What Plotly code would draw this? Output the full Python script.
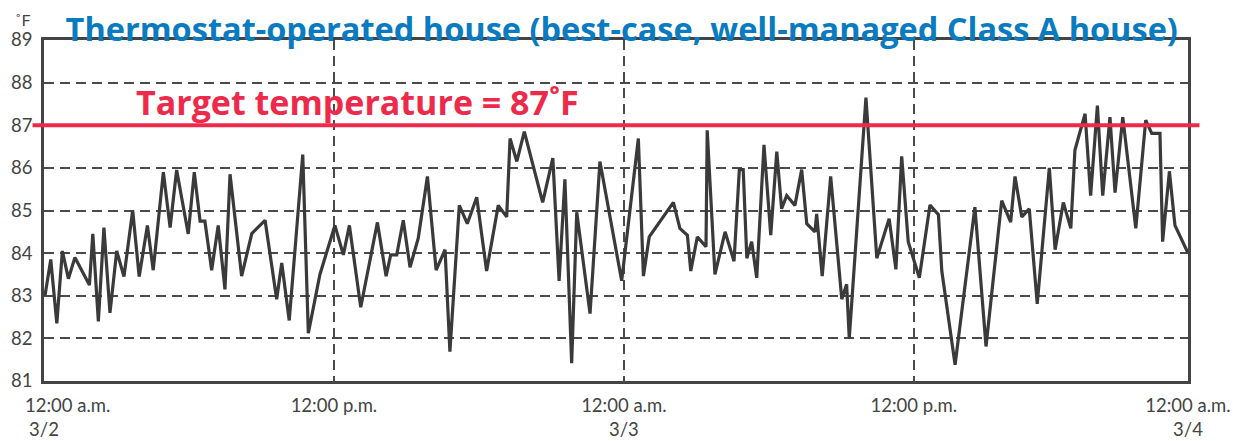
import plotly.graph_objects as go

# Time since 12:00 a.m. 3/2, in hours
hours = [0.04, 0.28, 0.53, 0.76, 1.01, 1.28, 1.88, 2.02, 2.25, 2.48, 2.73, 3.01, 3.31, 3.67, 3.94,
         4.28, 4.52, 4.94, 5.22, 5.49, 5.97, 6.22, 6.46, 6.66, 6.94, 7.21, 7.49, 7.70, 8.18, 8.60,
         9.15, 9.63, 9.84, 10.15, 10.71, 10.94, 11.42, 12.04, 12.39, 12.64, 13.11, 13.80, 14.16,
         14.35, 14.60, 14.87, 15.15, 15.49, 15.87, 16.23, 16.60, 16.80, 17.19, 17.52, 17.91, 18.32,
         18.80, 19.15, 19.29, 19.57, 19.88, 20.64, 21.06, 21.32, 21.56, 21.84, 22.05, 22.60, 23.01,
         23.91, 24.60, 24.81, 25.05, 26.05, 26.32, 26.63, 26.77, 27.04, 27.40, 27.45, 27.77, 28.19,
         28.56, 28.78, 28.94, 29.09, 29.29, 29.50, 29.80, 30.08, 30.33, 30.53, 30.74, 31.08, 31.36,
         31.57, 31.91, 31.98, 32.21, 32.56, 33.02, 33.22, 33.33, 34.02, 34.47, 34.98, 35.26, 35.50,
         35.77, 36.23, 36.67, 37.02, 37.16, 37.71, 38.53, 38.99, 39.64, 40.01, 40.19, 40.47, 40.78,
         41.11, 41.61, 41.85, 42.19, 42.50, 42.67, 43.09, 43.32, 43.60, 43.82, 44.12, 44.33, 44.65,
         45.19, 45.60, 45.85, 46.19, 46.30, 46.58, 46.81, 47.35]

temps_f = [83.0, 83.85, 82.35, 84.05, 83.4, 83.9, 83.25, 84.45, 82.4, 84.6, 82.6, 84.05, 83.45, 85.0,
           83.45, 84.65, 83.6, 85.9, 84.6, 85.95, 84.45, 85.9, 84.75, 84.75, 83.6, 84.65, 83.15, 85.85,
           83.46, 84.46, 84.77, 82.92, 83.77, 82.42, 86.31, 82.12, 83.5, 84.65, 83.96, 84.65, 82.73,
           84.72, 83.46, 83.96, 83.96, 84.77, 83.67, 84.35, 85.8, 83.6, 84.08, 81.69, 85.12, 84.69,
           85.31, 83.58, 85.12, 84.85, 86.69, 86.15, 86.85, 85.19, 86.23, 83.35, 85.73, 81.42, 84.96,
           82.58, 86.15, 83.35, 86.69, 83.46, 84.38, 85.19, 84.58, 84.42, 83.58, 84.38, 84.15, 86.88,
           83.5, 84.5, 83.81, 85.96, 85.96, 83.88, 84.27, 83.42, 86.54, 84.42, 86.38, 85.04, 85.35,
           85.12, 85.96, 84.69, 84.5, 84.92, 83.46, 85.8, 82.92, 83.27, 82.0, 87.65, 83.88, 84.81,
           83.62, 86.27, 84.27, 83.42, 85.13, 84.9, 83.58, 81.38, 85.08, 81.81, 85.23, 84.73, 85.8,
           84.85, 85.04, 82.81, 86.0, 84.08, 85.19, 84.58, 86.42, 87.27, 85.35, 87.46, 85.35, 87.19,
           85.42, 87.19, 84.58, 87.12, 86.81, 86.81, 84.27, 85.92, 84.65, 84.0]

target_temp = 87
NB = "\u00a0"
x_tick_hours = [0, 12, 24, 36, 47.35]
x_tick_labels = [NB * 10 + "12:00 a.m.<br>3/2", "12:00 p.m.", "12:00 a.m.<br>3/3",
                 "12:00 p.m.", "12:00 a.m.<br>3/4"]
y_ticks = [81, 82, 83, 84, 85, 86, 87, 88, 89]

title_text = "Thermostat-operated house (best-case, well-managed Class A house)"
target_text = "Target temperature = 87˚F"
unit_text = "˚F"

FRAME = "#444444"
GRID = "#4a4a4a"
RED = "#EE2A4B"
BLUE = "#0A7BC1"
LABEL = "#444444"

fig = go.Figure()
fig.add_trace(go.Scatter(
    x=hours, y=temps_f, mode="lines",
    line=dict(color="#3a3a3a", width=3.2),
    hoverinfo="skip", showlegend=False,
))

fig.add_shape(type="line", xref="paper", yref="y", x0=-0.01, x1=1.01,
              y0=target_temp, y1=target_temp,
              line=dict(color=RED, width=4), layer="above")

fig.add_annotation(text=f"<b>{target_text}</b>", xref="paper", yref="y",
                   x=0.079, y=87.55, xanchor="left", yanchor="middle", showarrow=False,
                   font=dict(family="Open Sans", size=34, color=RED))

fig.add_annotation(text=unit_text, xref="paper", yref="paper",
                   x=-0.019, y=1.06, xanchor="center", yanchor="middle", showarrow=False,
                   font=dict(family="Lato", size=16, color=LABEL))

# the page body adds an 8px offset; margins are set so the plot lands where the reference has it
fig.update_layout(
    width=1241, height=441,
    margin=dict(l=36, r=61, t=32, b=68),
    paper_bgcolor="white", plot_bgcolor="white",
    title=dict(text=f"<b>{title_text}</b>", x=0.505, xref="paper", xanchor="center",
               y=0.952, yref="container", yanchor="middle",
               font=dict(family="Open Sans", size=32.5, color=BLUE)),
    xaxis=dict(range=[0, 47.35], tickvals=x_tick_hours, ticktext=x_tick_labels,
               showgrid=True, gridcolor=GRID, gridwidth=1.8, griddash="10px,6px",
               zeroline=False, showline=True, mirror=True, linecolor=FRAME, linewidth=2.5,
               ticks="", ticklabelstandoff=6, automargin=False, ticklabeloverflow="allow",
               tickfont=dict(family="Lato", size=18.5, color=LABEL)),
    yaxis=dict(range=[81, 89], tickvals=y_ticks,
               showgrid=True, gridcolor=GRID, gridwidth=1.8, griddash="10px,6px",
               zeroline=False, showline=True, mirror=True, linecolor=FRAME, linewidth=2.5,
               ticks="", ticklabelstandoff=5, automargin=False, ticklabeloverflow="allow",
               tickfont=dict(family="Lato", size=18.5, color=LABEL)),
)

fig.write_html("out.html")
